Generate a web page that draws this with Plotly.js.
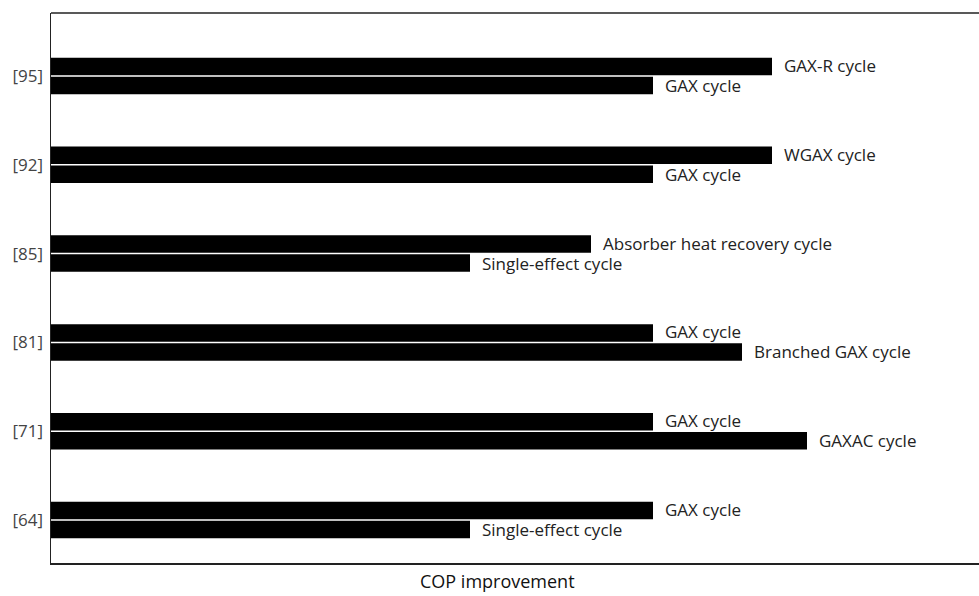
<!DOCTYPE html>
<html>
<head>
<meta charset="utf-8">
<script src="https://cdn.plot.ly/plotly-3.0.1.min.js"></script>
<style>html,body{margin:0;padding:0;background:#fff;}#chart{width:979px;height:596px;}</style>
</head>
<body>
<div id="chart"></div>
<script>
// Categories, top to bottom
const categories = ['[95]', '[92]', '[85]', '[81]', '[71]', '[64]'];
// Upper bar of each pair
const upperLabels = ['GAX-R cycle', 'WGAX cycle', 'Absorber heat recovery cycle', 'GAX cycle', 'GAX cycle', 'GAX cycle'];
const upperValues = [72.1, 72.1, 54.0, 60.2, 60.2, 60.2];
// Lower bar of each pair
const lowerLabels = ['GAX cycle', 'GAX cycle', 'Single-effect cycle', 'Branched GAX cycle', 'GAXAC cycle', 'Single-effect cycle'];
const lowerValues = [60.2, 60.2, 41.9, 69.1, 75.6, 41.9];
const xTitle = 'COP improvement';

const FONT = 'Open Sans, Noto Sans, sans-serif';

const traces = [
  {type: 'bar', orientation: 'h', y: categories, x: upperValues, name: 'upper',
   marker: {color: '#000', line: {width: 0}}, hoverinfo: 'skip'},
  {type: 'bar', orientation: 'h', y: categories, x: lowerValues, name: 'lower',
   marker: {color: '#000', line: {width: 0}}, hoverinfo: 'skip'}
];

const slot = (1 - 0.572) / 2;
const annotations = [];
categories.forEach((c, i) => {
  annotations.push({x: upperValues[i], y: i - slot / 2, xref: 'x', yref: 'y', text: upperLabels[i],
    showarrow: false, xanchor: 'left', yanchor: 'middle', xshift: 10, yshift: 1,
    font: {family: FONT, size: 17, color: '#222'}});
  annotations.push({x: lowerValues[i], y: i + slot / 2, xref: 'x', yref: 'y', text: lowerLabels[i],
    showarrow: false, xanchor: 'left', yanchor: 'middle', xshift: 10, yshift: 0,
    font: {family: FONT, size: 17, color: '#222'}});
});
annotations.push({x: 0.481, y: -0.032, xref: 'paper', yref: 'paper', text: xTitle, showarrow: false,
  xanchor: 'center', yanchor: 'middle', font: {family: FONT, size: 18, color: '#111'}});

const layout = {
  width: 979, height: 596,
  margin: {l: 51, r: 0, t: 13, b: 33},
  paper_bgcolor: '#fff', plot_bgcolor: '#fff',
  barmode: 'group', bargap: 0.572, bargroupgap: 0.08,
  showlegend: false,
  xaxis: {range: [0, 92.8], showticklabels: false, ticks: '', showgrid: false, zeroline: false,
    showline: true, linecolor: '#222', linewidth: 1.5, mirror: false, fixedrange: true},
  yaxis: {type: 'category', range: [5.484, -0.709], showgrid: false, zeroline: false,
    showline: true, linecolor: '#222', linewidth: 1.5, ticks: '', ticklabelstandoff: 3,
    tickfont: {family: FONT, size: 17, color: '#444'}, fixedrange: true},
  shapes: [{type: 'line', xref: 'paper', yref: 'paper', x0: 0, x1: 1, y0: 1, y1: 1,
    line: {color: '#222', width: 1.5}}],
  annotations: annotations
};

Plotly.newPlot('chart', traces, layout, {displayModeBar: false, staticPlot: true});
</script>
</body>
</html>
